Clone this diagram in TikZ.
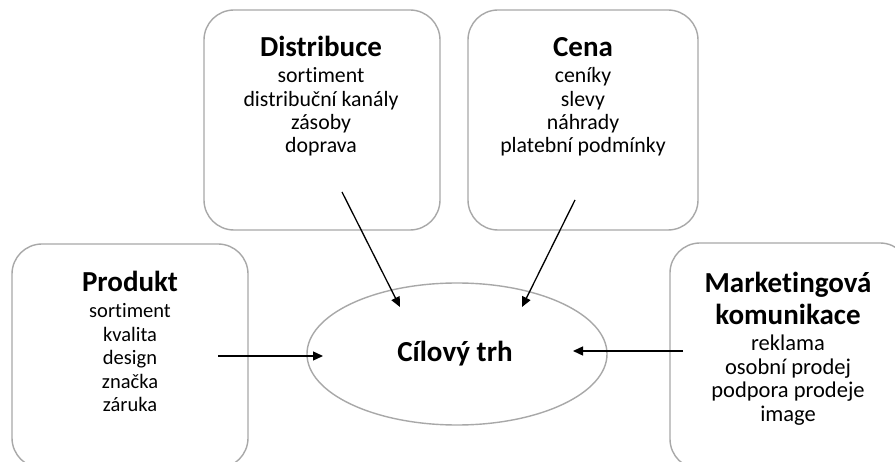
\documentclass[tikz,border=0pt]{standalone}
\usepackage{fontspec}
\setmainfont{Carlito}[Ligatures={NoCommon}]
\usetikzlibrary{arrows.meta,shapes.geometric}
\definecolor{boxgray}{RGB}{168,168,168}
\begin{document}
\begin{tikzpicture}[x=1pt,y=-1pt,
  boxnode/.style={draw=boxgray, line width=1.4pt, rounded corners=30pt, inner sep=0pt, rectangle},
  ovalnode/.style={draw=boxgray, line width=1.4pt, ellipse, inner sep=0pt},
  ttl/.style={font=\bfseries\fontsize{29}{30}\selectfont, anchor=base, inner sep=0pt},
  txt/.style={font=\fontsize{#1}{#1}\selectfont, anchor=base, inner sep=0pt},
  arr/.style={draw=black, line width=1.3pt, -{Triangle[length=10pt,width=9pt]}}
]
\useasboundingbox (0,0) rectangle (895,462);
\clip (0,0) rectangle (895,462);
\fill[white] (0,0) rectangle (895,462);

% boxes
\node[boxnode, minimum width=236pt, minimum height=224pt] (prod) at (130,356) {};
\node[boxnode, minimum width=236pt, minimum height=220pt] (dist) at (322,120) {};
\node[boxnode, minimum width=230pt, minimum height=220pt] (cena) at (583,120) {};
\node[boxnode, minimum width=240pt, minimum height=226pt] (mark) at (790,356) {};
\node[ovalnode, minimum width=300pt, minimum height=142pt] (trh) at (457,354) {};

% Produkt
\node[ttl] (p0) at (130,292) {Produkt};
\node[txt=20.5] (p1) at (130,318) {sortiment};
\node[txt=20.5] (p2) at (130,341.5) {kvalita};
\node[txt=20.5] (p3) at (130,365) {design};
\node[txt=20.5] (p4) at (130,388.5) {značka};
\node[txt=20.5] (p5) at (130,412) {záruka};

% Distribuce
\node[ttl] (d0) at (321,57) {Distribuce};
\node[txt=21.8] (d1) at (321,83) {sortiment};
\node[txt=21.8] (d2) at (321,106.3) {distribuční kanály};
\node[txt=21.8] (d3) at (321,129.6) {zásoby};
\node[txt=21.8] (d4) at (321,153) {doprava};

% Cena
\node[ttl] (c0) at (583,57) {Cena};
\node[txt=21.8] (c1) at (583,83) {ceníky};
\node[txt=21.8] (c2) at (583,106.3) {slevy};
\node[txt=21.8] (c3) at (583,129.6) {náhrady};
\node[txt=21.8] (c4) at (583,153) {platební podmínky};

% Marketingova komunikace
\node[ttl] (m0) at (788,293) {Marketingová};
\node[ttl] (m1) at (788,325) {komunikace};
\node[txt=22.5] (m2) at (788,351) {reklama};
\node[txt=22.5] (m3) at (788,374.5) {osobní prodej};
\node[txt=22.5] (m4) at (788,398) {podpora prodeje};
\node[txt=22.5] (m5) at (788,421.5) {image};

% Cilovy trh
\node[ttl] (t0) at (455,362) {Cílový trh};

% arrow ends
\coordinate (pS) at (218,356);
\coordinate (pE) at (323,356);
\coordinate (dS) at (342,192);
\coordinate (dE) at (400,307);
\coordinate (cS) at (575,200);
\coordinate (cE) at (522,307);
\coordinate (mS) at (683,351);
\coordinate (mE) at (573,351);

\draw[arr] (pS) -- (pE);
\draw[arr] (dS) -- (dE);
\draw[arr] (cS) -- (cE);
\draw[arr] (mS) -- (mE);
\end{tikzpicture}
\end{document}
